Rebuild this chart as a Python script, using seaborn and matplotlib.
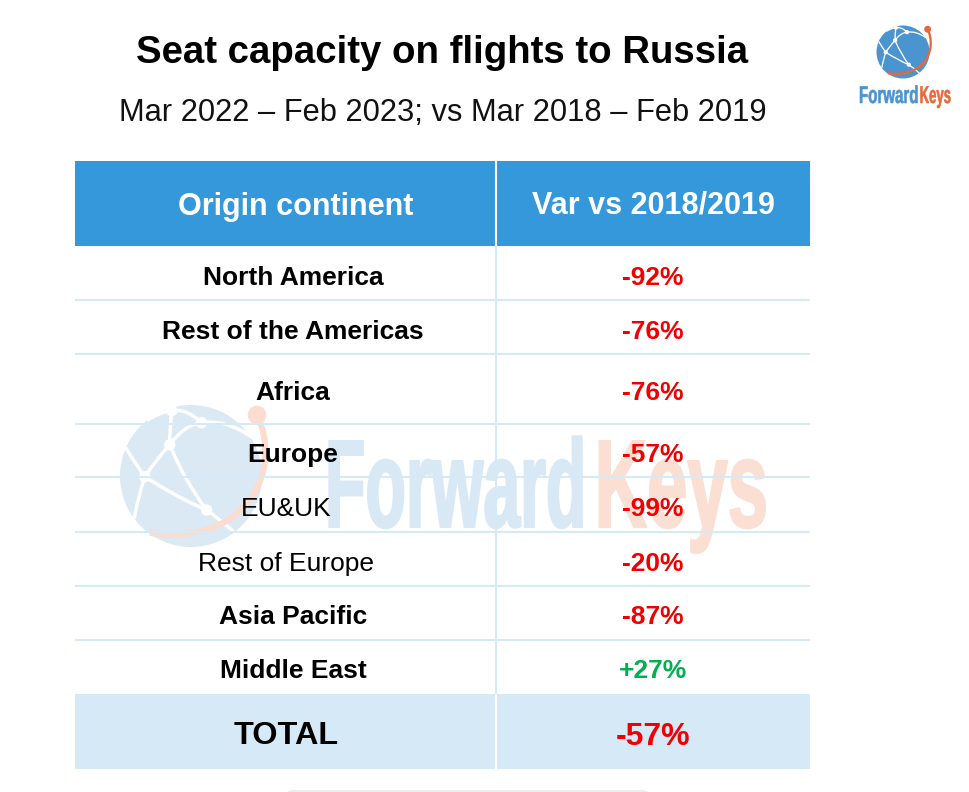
import seaborn as sns
import matplotlib.pyplot as plt
from matplotlib.patches import Circle, PathPatch, FancyBboxPatch
from matplotlib.path import Path
from matplotlib.patheffects import AbstractPathEffect
from matplotlib.transforms import Affine2D

title = "Seat capacity on flights to Russia"
subtitle = "Mar 2022 – Feb 2023; vs Mar 2018 – Feb 2019"
headers = ["Origin continent", "Var vs 2018/2019"]
origins = ["North America", "Rest of the Americas", "Africa", "Europe", "EU&UK",
           "Rest of Europe", "Asia Pacific", "Middle East"]
variation = [-92, -76, -76, -57, -99, -20, -87, 27]
is_subregion = [False, False, False, False, True, True, False, False]
total_label = "TOTAL"
total_variation = -57

# pixel layout of the slide
row_edges = [246, 300, 354, 424, 477, 532, 586, 640, 694]
row_text_y = [278, 332, 393, 455, 509, 564, 617, 671]
left, mid, right = 75, 496, 810
head_blue = "#3498db"
pale_blue = "#d5e9f7"
logo_blue = "#4a94cf"
logo_orange = "#e8683a"


class SqueezeX(AbstractPathEffect):
    # no condensed font installed, so squeeze the glyphs sideways and thicken them a bit
    def __init__(self, factor, x0, stroke=0):
        super().__init__()
        self.factor = factor
        self.x0 = x0
        self.stroke = stroke

    def draw_path(self, renderer, gc, tpath, affine, rgbFace=None):
        squeeze = Affine2D().translate(-self.x0, 0).scale(self.factor, 1).translate(self.x0, 0)
        gc0 = renderer.new_gc()
        gc0.copy_properties(gc)
        gc0.set_foreground(rgbFace)
        gc0.set_linewidth(self.stroke)
        renderer.draw_path(gc0, tpath, affine + squeeze, rgbFace)
        gc0.restore()


def curve(ax, cx, cy, r, p, c, q, color, lw, zorder):
    verts = [(cx + x * r, cy + y * r) for x, y in (p, c, q)]
    ax.add_patch(PathPatch(Path(verts, [Path.MOVETO, Path.CURVE3, Path.CURVE3]), fc="none", ec=color, lw=lw,
                           zorder=zorder))


def draw_globe(ax, cx, cy, r, blue, orange, zorder):
    ax.add_patch(Circle((cx, cy), r, fc=blue, ec="none", zorder=zorder))
    a, b, c, d, e = (-.30, -.44), (.15, -.75), (-.65, .01), (.22, .48), (-.27, -.92)
    links = [
        (e, (-.30, -.70), a),
        (a, (-.10, -.72), b),
        (a, (-.50, -.22), c),
        (a, (-.10, .05), d),
        (c, (-.20, .30), d),
        (c, (-.80, -.20), (-.92, -.40)),
        (c, (-.75, .30), (-.80, .60)),
        (b, (.50, -.80), (.85, -.55)),
        (e, (-.05, -.95), b),
        (e, (-.45, -.90), (-.62, -.78)),
        (d, (.42, .62), (.62, .80)),
    ]
    lw = r / 28
    for p, ctrl, q in links:
        curve(ax, cx, cy, r, p, ctrl, q, "white", lw, zorder + .1)
    for x, y in (a, b, c, d, e):
        ax.add_patch(Circle((cx + x * r, cy + y * r), r * .08, fc="white", ec="none", zorder=zorder + .1))
    arc = [(.93, -.86), (1.30, -.10), (.80, 1.00), (-.58, .80)]
    verts = [(cx + x * r, cy + y * r) for x, y in arc]
    ax.add_patch(PathPatch(Path(verts, [Path.MOVETO, Path.CURVE4, Path.CURVE4, Path.CURVE4]), fc="none",
                           ec=orange, lw=r / 16, zorder=zorder + .2))
    ax.add_patch(Circle(verts[0], r * .13, fc=orange, ec="none", zorder=zorder + .2))


sns.set_theme(style="white")
plt.rcParams["font.family"] = ["Liberation Sans", "DejaVu Sans"]

fig, ax = plt.subplots(figsize=(9.7, 7.92), dpi=100)
ax.set_position([0, 0, 1, 1])
ax.set_xlim(0, 970)
ax.set_ylim(792, 0)
ax.axis("off")

# header and total bands
ax.axhspan(161, 246, xmin=left / 970, xmax=right / 970, color=head_blue, lw=0, zorder=1)
ax.axhspan(694, 769, xmin=left / 970, xmax=right / 970, color=pale_blue, lw=0, zorder=1)

# watermark
draw_globe(ax, 191, 476, 71, "#dbe9f5", "#fbdccf", 0.5)
ax.text(325, 527, "Forward", fontsize=90, fontweight="bold", color="#d9e8f5", ha="left", va="baseline",
        path_effects=[SqueezeX(.53, 325, stroke=1.5)], zorder=0.6)
ax.text(768, 527, "Keys", fontsize=90, fontweight="bold", color="#fbdfd3", ha="right", va="baseline",
        path_effects=[SqueezeX(.58, 768, stroke=1.5)], zorder=0.6)

# grid lines
for y in row_edges[1:-1]:
    ax.plot([left, right], [y, y], color=pale_blue, lw=1.5, solid_capstyle="butt", zorder=2)
ax.plot([mid, mid], [161, 246], color="white", lw=1.5, solid_capstyle="butt", zorder=2)
ax.plot([mid, mid], [246, 694], color=pale_blue, lw=1.5, solid_capstyle="butt", zorder=2)
ax.plot([mid, mid], [694, 769], color="white", lw=1.5, solid_capstyle="butt", zorder=2)

# titles
ax.text(442, 53, title, fontsize=27.6, fontweight="bold", color="black", ha="center", va="center")
ax.text(442.5, 113, subtitle, fontsize=22.2, color="#111111", ha="center", va="center")

# header row
ax.text(296, 207, headers[0], fontsize=22, fontweight="bold", color="white", ha="center", va="center", zorder=3)
ax.text(653, 206, headers[1], fontsize=22, fontweight="bold", color="white", ha="center", va="center", zorder=3)

# body rows
for name, val, sub, y in zip(origins, variation, is_subregion, row_text_y):
    ax.text(286 if sub else 293, y, name, fontsize=19, fontweight="normal" if sub else "bold", color="black",
            ha="center", va="center", zorder=3)
    ax.text(653, y, f"{val:+d}%", fontsize=19, fontweight="bold", color="#00b050" if val > 0 else "#f00000",
            ha="center", va="center", zorder=3)

# total row
ax.text(286, 736, total_label, fontsize=23.3, fontweight="bold", color="black", ha="center", va="center", zorder=3)
ax.text(653, 737, f"{total_variation:+d}%", fontsize=23, fontweight="bold", color="#f00000",
        ha="center", va="center", zorder=3)

# logo top right
draw_globe(ax, 903, 52, 26.5, logo_blue, logo_orange, 4)
ax.text(859, 103, "Forward", fontsize=17.5, fontweight="bold", color=logo_blue, ha="left", va="baseline",
        path_effects=[SqueezeX(.62, 859, stroke=.4)], zorder=4)
ax.text(951, 103, "Keys", fontsize=17.5, fontweight="bold", color=logo_orange, ha="right", va="baseline",
        path_effects=[SqueezeX(.54, 951, stroke=.4)], zorder=4)

# edge of the next slide element at the bottom
ax.add_patch(FancyBboxPatch((285, 790), 365, 10, boxstyle="round,pad=0,rounding_size=8", fc="#eeeeee", ec="none",
                            zorder=1, clip_on=True))

fig.savefig("out.png", dpi=100)
